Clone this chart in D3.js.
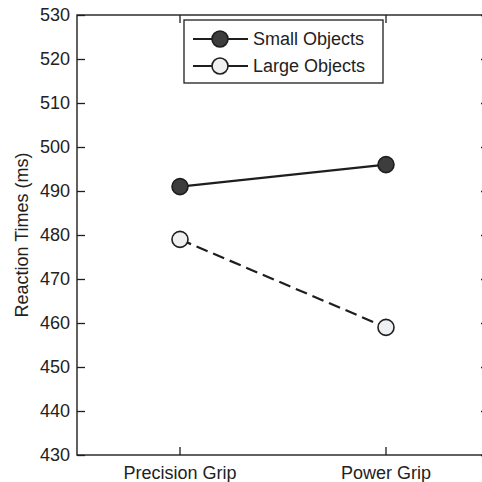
<!DOCTYPE html>
<html>
<head>
<meta charset="utf-8">
<script src="https://cdn.jsdelivr.net/npm/d3@7"></script>
<style>
  body { margin: 0; background: #fff; }
  svg text { font-family: "Liberation Sans", Arial, Helvetica, sans-serif; fill: #222; }
</style>
</head>
<body>
<svg id="chart" width="482" height="482"></svg>
<script>
const grips = ["Precision Grip", "Power Grip"];
const smallObjects = [491, 496];
const largeObjects = [479, 459];
const yTicks = [430, 440, 450, 460, 470, 480, 490, 500, 510, 520, 530];

const series = [
  { name: "Small Objects", values: smallObjects, fill: "#3d3d3d", dash: null },
  { name: "Large Objects", values: largeObjects, fill: "#eef0f2", dash: "12,6" }
];

const box = { left: 77, right: 489, top: 15, bottom: 455 };
const ink = "#1e1e1e";

const svg = d3.select("#chart");

const x = d3.scaleBand().domain(grips).range([box.left, box.right]).padding(0);
const cx = g => x(g) + x.bandwidth() / 2;
const y = d3.scaleLinear().domain([430, 530]).range([box.bottom, box.top]);

const styleAxis = g => {
  g.select(".domain").remove();
  g.selectAll(".tick line").attr("stroke", ink).attr("stroke-width", 1.3);
  g.selectAll(".tick text").attr("font-size", 18).attr("fill", ink);
};

svg.append("g")
  .attr("transform", `translate(${box.left},0)`)
  .call(d3.axisLeft(y).tickValues(yTicks).tickSizeInner(-8).tickSizeOuter(0).tickPadding(7))
  .call(styleAxis);

svg.append("g")
  .attr("transform", `translate(${box.right},0)`)
  .call(d3.axisRight(y).tickValues(yTicks).tickSizeInner(-8).tickSizeOuter(0).tickFormat(""))
  .call(styleAxis);

svg.append("g")
  .attr("transform", `translate(0,${box.bottom})`)
  .call(d3.axisBottom(x).tickSizeInner(-8).tickSizeOuter(0).tickPadding(11))
  .call(styleAxis);

svg.append("g")
  .attr("transform", `translate(0,${box.top})`)
  .call(d3.axisTop(x).tickSizeInner(-8).tickSizeOuter(0).tickFormat(""))
  .call(styleAxis);

svg.append("rect")
  .attr("x", box.left).attr("y", box.top)
  .attr("width", box.right - box.left).attr("height", box.bottom - box.top)
  .attr("fill", "none").attr("stroke", ink).attr("stroke-width", 1.4);

svg.append("text")
  .attr("transform", `translate(22,${(box.top + box.bottom) / 2}) rotate(-90)`)
  .attr("text-anchor", "middle")
  .attr("dy", "0.35em")
  .attr("font-size", 18)
  .text("Reaction Times (ms)");

const line = d3.line().x((d, i) => cx(grips[i])).y(d => y(d));

series.forEach(s => {
  svg.append("path")
    .datum(s.values)
    .attr("d", line)
    .attr("fill", "none")
    .attr("stroke", ink)
    .attr("stroke-width", 2.2)
    .attr("stroke-dasharray", s.dash);

  svg.append("g").selectAll("circle")
    .data(s.values)
    .join("circle")
    .attr("cx", (d, i) => cx(grips[i]))
    .attr("cy", d => y(d))
    .attr("r", 8)
    .attr("fill", s.fill)
    .attr("stroke", ink)
    .attr("stroke-width", 1.6);
});

// legend
const legend = svg.append("g").attr("transform", "translate(184,20)");
legend.append("rect")
  .attr("width", 199).attr("height", 63)
  .attr("fill", "#fff").attr("stroke", ink).attr("stroke-width", 1.3);

series.forEach((s, i) => {
  const row = legend.append("g").attr("transform", `translate(0,${19 + i * 27})`);
  row.append("line")
    .attr("x1", 9).attr("x2", 64)
    .attr("stroke", ink).attr("stroke-width", 2.2);
  row.append("circle")
    .attr("cx", 36).attr("r", 8)
    .attr("fill", s.fill).attr("stroke", ink).attr("stroke-width", 1.6);
  row.append("text")
    .attr("x", 69).attr("dy", "0.35em")
    .attr("font-size", 18)
    .text(s.name);
});
</script>
</body>
</html>
